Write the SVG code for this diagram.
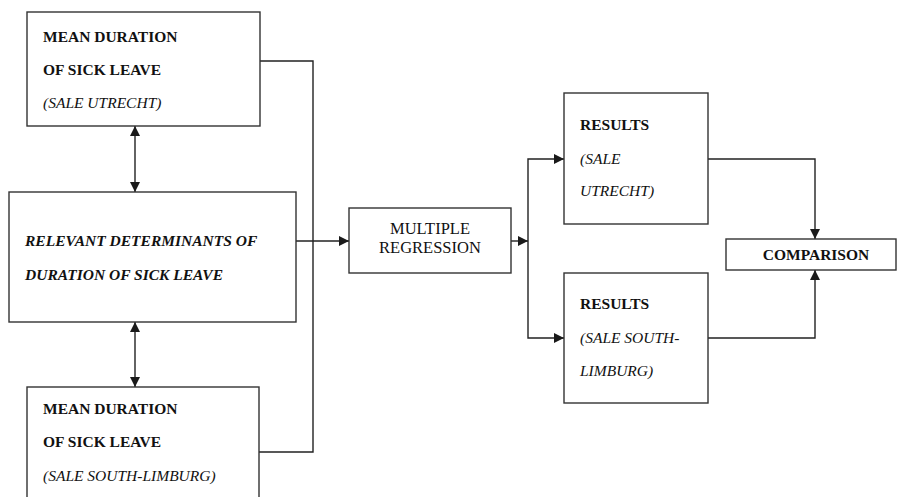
<svg xmlns="http://www.w3.org/2000/svg" width="898" height="497" viewBox="0 0 898 497">
<defs>
<marker id="ah" viewBox="0 0 10 10" refX="10" refY="5" markerWidth="10" markerHeight="10" markerUnits="userSpaceOnUse" orient="auto-start-reverse">
<path d="M0,0 L10,5 L0,10 Z" fill="#1a1a1a"/>
</marker>
<style>
.box{fill:#fff;stroke:#333;stroke-width:1.4}
.ln{fill:none;stroke:#222;stroke-width:1.4}
.t{font-family:"Liberation Serif","Times New Roman",serif;font-size:15.5px;fill:#111}
.b{font-weight:bold}
.i{font-style:italic}
.r{font-size:16.5px}
</style>
</defs>
<rect width="898" height="497" fill="#fff"/>
<g id="connectors">
<path class="ln" d="M260,61 H313 V452 H259"/>
<path class="ln" d="M296,241 H349" marker-end="url(#ah)"/>
<path class="ln" d="M511,241 H528" marker-end="url(#ah)"/>
<path class="ln" d="M564,159 H528 V338 H564" marker-start="url(#ah)" marker-end="url(#ah)"/>
<path class="ln" d="M708,159 H815 V239" marker-end="url(#ah)"/>
<path class="ln" d="M708,338 H815 V270" marker-end="url(#ah)"/>
<path class="ln" d="M135,126 V192" marker-start="url(#ah)" marker-end="url(#ah)"/>
<path class="ln" d="M135,322 V387" marker-start="url(#ah)" marker-end="url(#ah)"/>
</g>
<g id="mean-utrecht">
<rect class="box" x="27" y="12" width="233" height="114"/>
<text class="t b" x="43" y="42">MEAN DURATION</text>
<text class="t b" x="43" y="75">OF SICK LEAVE</text>
<text class="t i" x="43" y="108">(SALE UTRECHT)</text>
</g>
<g id="determinants">
<rect class="box" x="9" y="192" width="287" height="130"/>
<text class="t b i" x="25" y="246">RELEVANT DETERMINANTS OF</text>
<text class="t b i" x="25" y="280">DURATION OF SICK LEAVE</text>
</g>
<g id="mean-limburg">
<rect class="box" x="27" y="387" width="232" height="120"/>
<text class="t b" x="43" y="414">MEAN DURATION</text>
<text class="t b" x="43" y="447">OF SICK LEAVE</text>
<text class="t i" x="43" y="481">(SALE SOUTH-LIMBURG)</text>
</g>
<g id="regression">
<rect class="box" x="349" y="208" width="162" height="65"/>
<text class="t r" x="430" y="234" text-anchor="middle">MULTIPLE</text>
<text class="t r" x="430" y="253" text-anchor="middle">REGRESSION</text>
</g>
<g id="results-utrecht">
<rect class="box" x="564" y="93" width="144" height="131"/>
<text class="t b" x="580" y="130">RESULTS</text>
<text class="t i" x="580" y="164">(SALE</text>
<text class="t i" x="580" y="196">UTRECHT)</text>
</g>
<g id="results-limburg">
<rect class="box" x="564" y="273" width="144" height="130"/>
<text class="t b" x="580" y="309">RESULTS</text>
<text class="t i" x="580" y="343">(SALE SOUTH-</text>
<text class="t i" x="580" y="376">LIMBURG)</text>
</g>
<g id="comparison">
<rect class="box" x="726" y="239" width="170" height="31"/>
<text class="t b" x="816" y="260" text-anchor="middle">COMPARISON</text>
</g>
</svg>
